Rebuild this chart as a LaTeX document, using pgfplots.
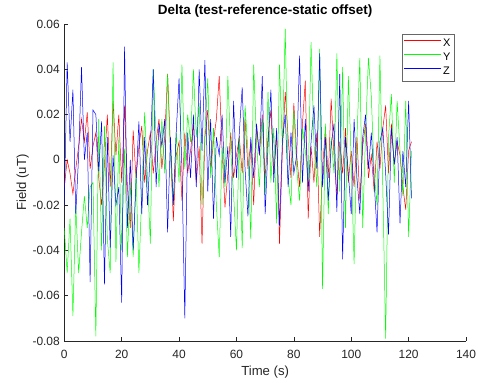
\documentclass[border=0pt]{standalone}
\usepackage{pgfplots}
\pgfplotsset{compat=1.18}
\usepackage{pgfplotstable}
\usepackage{fontspec}
\setmainfont{Liberation Sans}
\definecolor{axgray}{rgb}{0.15,0.15,0.15}
\definecolor{mred}{rgb}{1,0,0}
\definecolor{mgreen}{rgb}{0,1,0}
\definecolor{mblue}{rgb}{0,0,1}
\pgfplotstableread{
t x y z
0 -0.012 -0.030 -0.020
1 0.000 -0.050 0.043
2 -0.006 -0.026 0.008
3 -0.015 -0.069 0.031
4 -0.004 -0.020 -0.024
5 0.006 -0.050 0.002
6 0.018 -0.032 0.041
7 0.008 -0.016 0.000
8 0.021 -0.030 0.012
9 -0.004 -0.012 -0.054
10 0.006 -0.010 0.022
11 0.012 -0.078 0.020
12 -0.008 0.018 -0.005
13 -0.020 -0.040 0.017
14 -0.002 0.015 -0.055
15 0.020 -0.035 0.010
16 -0.012 -0.050 -0.039
17 0.026 0.043 0.002
18 0.002 -0.045 -0.020
19 0.020 0.010 -0.012
20 -0.010 -0.040 -0.063
21 0.024 0.005 0.050
22 -0.012 -0.043 -0.030
23 -0.030 -0.010 0.000
24 0.013 -0.043 -0.040
25 -0.008 -0.005 -0.010
26 0.006 -0.050 0.017
27 0.015 -0.015 -0.024
28 -0.010 0.021 0.010
29 0.004 -0.008 -0.020
30 0.012 -0.037 0.004
31 -0.006 0.040 0.040
32 0.008 0.010 -0.012
33 0.018 -0.012 0.016
34 -0.004 0.018 0.006
35 0.010 -0.006 0.018
36 0.038 0.038 -0.032
37 0.005 0.002 0.010
38 -0.027 -0.020 -0.020
39 0.002 0.012 0.012
40 0.008 -0.010 0.036
41 -0.018 0.042 -0.004
42 0.012 -0.004 -0.070
43 -0.006 0.020 0.012
44 0.004 0.008 -0.008
45 0.016 0.040 0.020
46 -0.010 0.010 -0.012
47 0.006 0.025 0.040
48 -0.037 -0.020 0.004
49 0.010 0.012 0.044
50 0.022 0.036 -0.014
51 -0.004 -0.008 0.018
52 0.008 0.014 -0.026
53 0.018 -0.020 0.010
54 0.037 -0.043 0.002
55 0.004 0.006 0.020
56 -0.021 -0.012 -0.010
57 -0.006 0.037 0.006
58 0.012 0.004 -0.034
59 -0.008 -0.015 0.026
60 0.002 -0.040 -0.008
61 0.010 0.010 0.012
62 -0.006 -0.039 0.032
63 0.018 0.024 -0.004
64 -0.004 0.004 -0.025
65 0.008 -0.035 0.010
66 -0.020 0.042 -0.008
67 0.014 0.008 0.016
68 0.002 -0.012 0.002
69 0.020 0.018 0.037
70 -0.008 -0.016 -0.024
71 0.010 0.030 0.006
72 0.022 -0.010 0.031
73 -0.006 0.014 -0.010
74 0.012 -0.028 0.014
75 -0.037 0.042 -0.029
76 0.004 0.006 0.008
77 0.030 0.058 0.020
78 0.010 -0.008 -0.012
79 -0.008 -0.020 0.012
80 0.025 0.022 -0.006
81 0.002 -0.004 0.002
82 -0.012 -0.018 0.046
83 0.016 0.014 -0.010
84 0.035 0.004 0.018
85 -0.026 -0.010 -0.014
86 0.006 0.052 0.008
87 -0.010 0.008 0.024
88 0.012 -0.012 -0.004
89 -0.034 0.049 0.047
90 -0.004 -0.057 -0.012
91 0.014 0.016 0.010
92 -0.008 -0.024 -0.018
93 0.027 0.010 0.006
94 0.002 -0.006 0.016
95 -0.016 0.047 -0.023
96 0.008 -0.014 0.038
97 -0.006 0.041 -0.044
98 0.014 -0.030 0.010
99 -0.010 0.037 -0.006
100 0.004 0.000 -0.024
101 -0.012 -0.046 0.018
102 0.010 0.010 -0.008
103 -0.018 0.045 -0.024
104 0.006 -0.030 0.010
105 0.016 0.012 0.020
106 -0.008 0.045 -0.004
107 0.002 0.028 0.012
108 -0.014 -0.006 -0.010
109 0.008 -0.020 -0.032
110 -0.004 0.046 0.008
111 0.014 -0.012 0.014
112 0.024 -0.079 -0.006
113 -0.006 0.010 -0.033
114 0.016 0.029 0.014
115 -0.002 -0.010 -0.002
116 0.008 0.026 0.010
117 0.002 0.004 -0.028
118 -0.012 -0.016 0.004
119 -0.022 0.026 -0.012
120 0.004 -0.034 0.026
121 0.008 0.004 -0.017
}\datatable
\begin{document}
\begin{tikzpicture}
\useasboundingbox (0,0) rectangle (478bp,383bp);
\begin{axis}[
  at={(64.3bp,42bp)}, anchor=south west,
  scale only axis, width=401.7bp, height=317bp,
  xmin=0, xmax=140, ymin=-0.08, ymax=0.06,
  axis x line*=bottom, axis y line*=left,
  xtick={0,20,...,140},
  ytick={-0.08,-0.06,-0.04,-0.02,0,0.02,0.04,0.06},
  yticklabels={-0.08,-0.06,-0.04,-0.02,0,0.02,0.04,0.06},
  scaled y ticks=false,
  /pgf/number format/assume math mode=true,
  tick align=inside,
  major tick length=4bp,
  axis line style={axgray, line width=0.5pt, -},
  every tick/.style={axgray, line width=0.5pt},
  tick label style={font=\fontsize{12}{14}\selectfont, text=axgray},
  xticklabel style={yshift=-5.5bp},
  yticklabel style={xshift=-1bp},
  xlabel={Time (s)}, ylabel={Field (uT)},
  label style={font=\fontsize{13.2}{15}\selectfont, text=axgray},
  xlabel style={at={(0.5,-0.1088)}, anchor=base},
  ylabel style={at={(-0.0953,0.5)}, anchor=base},
  title={\textbf{Delta (test-reference-static offset)}},
  title style={font=\fontsize{13.5}{16}\selectfont, at={(0.5,1.0114)}, anchor=base},
  legend style={at={(0.840,0.969)}, anchor=north west, draw=axgray!70,
    line width=0.5pt, font=\fontsize{11}{13}\selectfont,
    inner xsep=1.7bp, inner ysep=2.8bp, row sep=0pt,
    nodes={text height=8bp, text depth=2bp, inner sep=2bp}},
  legend cell align=left,
  legend image code/.code={\draw[#1] (0bp,4bp) -- (37bp,4bp);},
]
\addplot[mred, line width=0.5pt] table[x=t, y=x] {\datatable};
\addplot[mgreen, line width=0.5pt] table[x=t, y=y] {\datatable};
\addplot[mblue, line width=0.5pt] table[x=t, y=z] {\datatable};
\legend{X,Y,Z}
\end{axis}
\end{tikzpicture}
\end{document}
